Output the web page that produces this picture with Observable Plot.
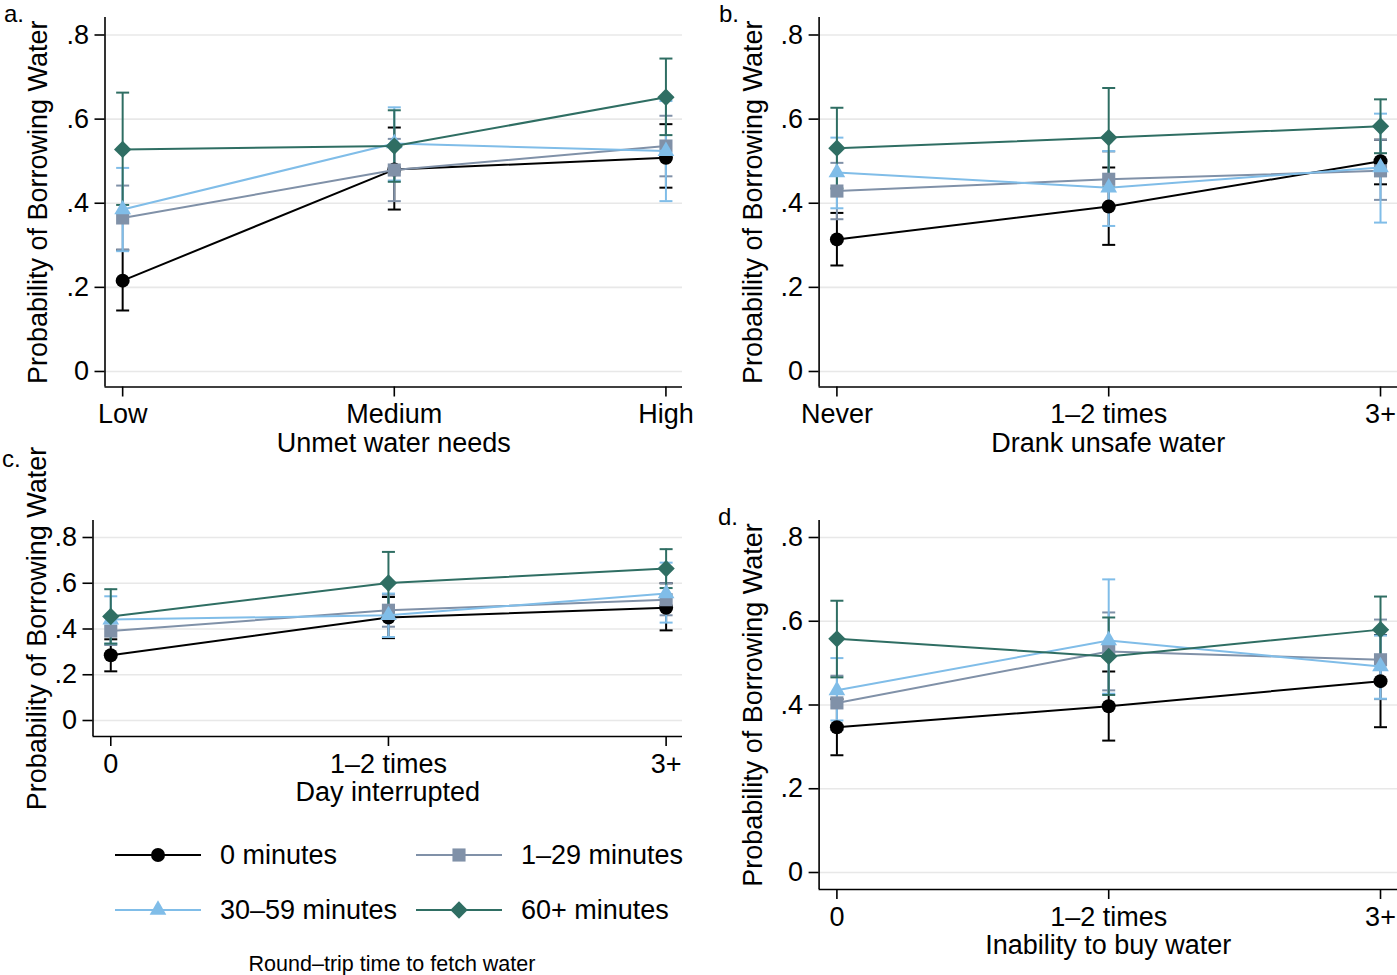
<!DOCTYPE html>
<html><head><meta charset="utf-8">
<script src="https://cdn.jsdelivr.net/npm/d3@7"></script>
<script src="https://cdn.jsdelivr.net/npm/@observablehq/plot@0.6"></script>
<style>
body{margin:0;background:#fff;}
#chart{position:relative;width:1397px;height:975px;background:#fff;overflow:hidden;font-family:"Liberation Sans",Arial,Helvetica,sans-serif;}
.panel{position:absolute;}
#overlay{position:absolute;left:0;top:0;}
</style></head><body><div id="chart"></div>
<script>
// ---- series ----
const seriesNames = ["0 minutes", "1–29 minutes", "30–59 minutes", "60+ minutes"];
const seriesColors = ["#000000", "#8091a8", "#80bde8", "#2f6e63"];
const seriesSymbols = ["circle", "square", "triangle", "diamond2"];
const seriesRadius = [7.0, 7.4, 6.2, 7.8];

// ---- y axis ----
const yTicks = [0, 0.2, 0.4, 0.6, 0.8];
const yTickLabels = ["0", ".2", ".4", ".6", ".8"];
const yTitle = "Probability of Borrowing Water";
const legendTitle = "Round–trip time to fetch water";

// ---- panel a ----
const catsA = ["Low", "Medium", "High"];
const titleA = "Unmet water needs";
const estA = [[0.216, 0.480, 0.508], [0.365, 0.479, 0.536], [0.385, 0.542, 0.524], [0.528, 0.536, 0.652]];
const loA  = [[0.145, 0.385, 0.437], [0.290, 0.405, 0.464], [0.286, 0.454, 0.405], [0.396, 0.451, 0.562]];
const hiA  = [[0.289, 0.580, 0.588], [0.442, 0.553, 0.608], [0.484, 0.628, 0.643], [0.663, 0.621, 0.744]];

// ---- panel b ----
const catsB = ["Never", "1–2 times", "3+"];
const titleB = "Drank unsafe water";
const estB = [[0.314, 0.392, 0.500], [0.429, 0.457, 0.477], [0.473, 0.437, 0.485], [0.531, 0.556, 0.583]];
const loB  = [[0.252, 0.301, 0.445], [0.362, 0.393, 0.408], [0.388, 0.346, 0.354], [0.435, 0.438, 0.519]];
const hiB  = [[0.377, 0.485, 0.551], [0.496, 0.523, 0.551], [0.556, 0.524, 0.613], [0.627, 0.674, 0.647]];

// ---- panel c ----
const catsC = ["0", "1–2 times", "3+"];
const titleC = "Day interrupted";
const estC = [[0.285, 0.450, 0.493], [0.391, 0.482, 0.528], [0.441, 0.460, 0.555], [0.455, 0.601, 0.664]];
const loC  = [[0.215, 0.360, 0.394], [0.330, 0.410, 0.460], [0.336, 0.365, 0.428], [0.336, 0.465, 0.579]];
const hiC  = [[0.355, 0.540, 0.600], [0.450, 0.550, 0.600], [0.543, 0.555, 0.690], [0.574, 0.737, 0.749]];

// ---- panel d ----
const catsD = ["0", "1–2 times", "3+"];
const titleD = "Inability to buy water";
const estD = [[0.347, 0.397, 0.457], [0.405, 0.528, 0.508], [0.435, 0.554, 0.492], [0.558, 0.516, 0.580]];
const loD  = [[0.280, 0.315, 0.347], [0.340, 0.435, 0.414], [0.363, 0.427, 0.415], [0.466, 0.424, 0.506]];
const hiD  = [[0.414, 0.480, 0.567], [0.470, 0.621, 0.604], [0.512, 0.700, 0.566], [0.649, 0.609, 0.659]];

const FONT = '"Liberation Sans", Arial, Helvetica, sans-serif';
const FS = 27;
const capSymbol = {draw(ctx) { const w = 6.5; ctx.moveTo(-w, 0); ctx.lineTo(w, 0); }};

function panel(o) {
  const rows = [];
  o.est.forEach((s, si) => s.forEach((v, ci) =>
    rows.push({s: si, x: ci, est: v, lo: o.lo[si][ci], hi: o.hi[si][ci]})));
  const marks = [
    Plot.ruleY(yTicks, {stroke: "#e8e8e8", strokeWidth: 1.6}),
    Plot.ruleX([o.xDom[0]], {stroke: "#000", strokeWidth: 1.6}),
    Plot.ruleY([o.yDom[0]], {stroke: "#000", strokeWidth: 1.6}),
    Plot.axisY(yTicks, {tickSize: 10, tickPadding: 6, fontSize: FS, strokeWidth: 1.6,
      tickFormat: d => yTickLabels[yTicks.indexOf(d)], label: null}),
    Plot.axisX([0, 1, 2], {tickSize: 10, tickPadding: 7, fontSize: FS, strokeWidth: 1.6,
      tickFormat: d => o.cats[d], label: null}),
    Plot.text([yTitle], {text: d => d, frameAnchor: "left", rotate: -90, dx: o.yTitleDx,
      fontSize: FS, lineAnchor: "middle", textAnchor: "middle"}),
    Plot.text([o.title], {text: d => d, frameAnchor: "bottom", dy: 45.5, fontSize: FS,
      lineAnchor: "top", textAnchor: "middle"})
  ];
  seriesNames.forEach((n, si) => {
    const d = rows.filter(r => r.s === si);
    marks.push(Plot.ruleX(d, {x: "x", y1: "lo", y2: "hi", stroke: seriesColors[si], strokeWidth: 2}));
    marks.push(Plot.dot(d, {x: "x", y: "lo", symbol: capSymbol, r: 6, fill: "none", stroke: seriesColors[si], strokeWidth: 2}));
    marks.push(Plot.dot(d, {x: "x", y: "hi", symbol: capSymbol, r: 6, fill: "none", stroke: seriesColors[si], strokeWidth: 2}));
  });
  seriesNames.forEach((n, si) => {
    const d = rows.filter(r => r.s === si);
    marks.push(Plot.line(d, {x: "x", y: "est", stroke: seriesColors[si], strokeWidth: 2}));
    marks.push(Plot.dot(d, {x: "x", y: "est", symbol: seriesSymbols[si], r: seriesRadius[si],
      fill: seriesColors[si], stroke: "none"}));
  });
  const svg = Plot.plot({
    width: o.width, height: o.height,
    marginLeft: o.mL, marginRight: o.mR, marginTop: o.mT, marginBottom: o.mB,
    x: {type: "linear", domain: o.xDom},
    y: {type: "linear", domain: o.yDom},
    style: {fontFamily: FONT, fontSize: FS + "px", background: "transparent", overflow: "visible", color: "#000"},
    marks
  });
  svg.classList.add("panel");
  svg.style.left = o.left + "px";
  svg.style.top = o.top + "px";
  return svg;
}

const chart = document.getElementById("chart");
chart.appendChild(panel({cats: catsA, title: titleA, est: estA, lo: loA, hi: hiA,
  xDom: [-0.065, 2.061], yDom: [-0.0369, 0.8416],
  left: 0, top: 0, width: 700, height: 470, mL: 104.5, mR: 18, mT: 17, mB: 83.5, yTitleDx: -66.5}));
chart.appendChild(panel({cats: catsB, title: titleB, est: estB, lo: loB, hi: hiB,
  xDom: [-0.0655, 2.0625], yDom: [-0.0369, 0.8416],
  left: 715, top: 0, width: 682, height: 470, mL: 103.6, mR: 0, mT: 17, mB: 83.5, yTitleDx: -66}));
chart.appendChild(panel({cats: catsC, title: titleC, est: estC, lo: loC, hi: hiC,
  xDom: [-0.064, 2.059], yDom: [-0.0699, 0.8743],
  left: 0, top: 440, width: 700, height: 390, mL: 92.5, mR: 18, mT: 80, mB: 94, yTitleDx: -55.5}));
chart.appendChild(panel({cats: catsD, title: titleD, est: estD, lo: loD, hi: hiD,
  xDom: [-0.0655, 2.0625], yDom: [-0.0406, 0.8406],
  left: 715, top: 440, width: 682, height: 535, mL: 103.6, mR: 0, mT: 80, mB: 86, yTitleDx: -65.6}));

// ---- overlay: panel letters, legend, legend title ----
const panelLetters = ["a.", "b.", "c.", "d."];
const letterPos = [[4, 22], [719, 22], [2, 467], [718, 525]];
const symbolTypes = {circle: d3.symbolCircle, square: d3.symbolSquare, triangle: d3.symbolTriangle, diamond2: d3.symbolDiamond2};
const legendRowY = [855, 910];
const legendColX = [115, 416];

const ov = d3.select(chart).append("svg").attr("id", "overlay")
  .attr("width", 1397).attr("height", 975).style("font-family", FONT);
panelLetters.forEach((t, i) => ov.append("text").attr("x", letterPos[i][0]).attr("y", letterPos[i][1])
  .attr("font-size", 24).text(t));
seriesNames.forEach((n, si) => {
  const cx = legendColX[si % 2], cy = legendRowY[Math.floor(si / 2)];
  ov.append("line").attr("x1", cx).attr("x2", cx + 86).attr("y1", cy).attr("y2", cy)
    .attr("stroke", seriesColors[si]).attr("stroke-width", 2);
  ov.append("path").attr("transform", `translate(${cx + 43},${cy})`)
    .attr("d", d3.symbol().type(symbolTypes[seriesSymbols[si]]).size(Math.PI * seriesRadius[si] ** 2)())
    .attr("fill", seriesColors[si]);
  ov.append("text").attr("x", cx + 105).attr("y", cy).attr("dy", "0.35em")
    .attr("font-size", FS).text(n);
});
ov.append("text").attr("x", 392).attr("y", 963).attr("dy", "0.35em").attr("text-anchor", "middle")
  .attr("font-size", 21.5).text(legendTitle);
</script></body></html>
